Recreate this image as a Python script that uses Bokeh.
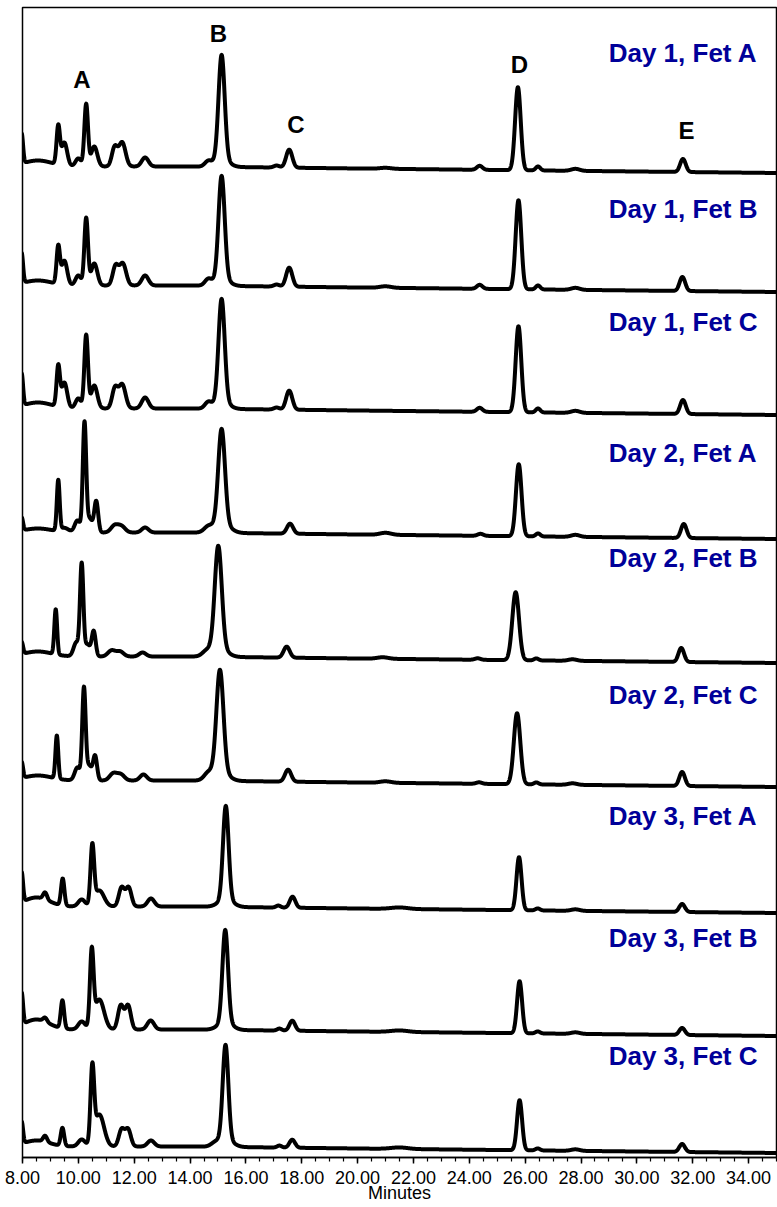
import numpy as np
from bokeh.plotting import figure
from bokeh.models import Range1d, SingleIntervalTicker, PrintfTickFormatter
from bokeh.core.properties import value
from bokeh.embed import file_html
from bokeh.resources import INLINE

# ---------------- data ----------------
sample_names = ["Day 1, Fet A", "Day 1, Fet B", "Day 1, Fet C",
                "Day 2, Fet A", "Day 2, Fet B", "Day 2, Fet C",
                "Day 3, Fet A", "Day 3, Fet B", "Day 3, Fet C"]

# vertical stacking offset of each chromatogram (signal units)
offsets = [980, 861, 738, 614, 490, 366, 240, 117, 0]

# slow baseline drift common to all runs: (minutes, level)
drift_t = [8.0, 14.0, 20.0, 35.0]
drift_v = [2.0, 2.0, 0.0, -4.5]

# peak tables: (retention time [min], height, width sigma [min])
d1_fet_a = [(7.97, 30, .05), (8.55, 6, .5), (9.28, 38, .06), (9.5, 23, .1), (10.0, 8, .1),
            (10.28, 62, .065), (10.57, 20, .11), (11.3, 19, .1), (11.57, 24, .12), (12.39, 9, .12),
            (14.65, 5, .12), (15.13, 104, .11), (15.13, 8, .25), (17.1, 2, .1), (17.55, 18, .11),
            (21.0, 1, .2), (24.37, 4, .1), (25.74, 83, .1), (26.46, 4, .08), (27.8, 2, .15),
            (31.65, 13, .1)]
d1_fet_b = [(7.97, 30, .05), (8.55, 5, .5), (9.28, 37, .06), (9.5, 24, .1), (10.0, 10, .1),
            (10.28, 67, .065), (10.57, 22, .11), (11.33, 19, .1), (11.59, 22, .12), (12.39, 10, .12),
            (14.65, 6, .12), (15.13, 102, .11), (15.13, 8, .25), (17.1, 2, .1), (17.55, 19, .11),
            (21.0, 1.5, .2), (24.37, 4, .1), (25.76, 89, .1), (26.46, 4, .08), (27.8, 2, .15),
            (31.63, 14, .1)]
d1_fet_c = [(7.97, 32, .05), (8.55, 6, .5), (9.28, 40, .06), (9.5, 25, .1), (10.0, 10, .1),
            (10.28, 73, .065), (10.57, 23, .11), (11.31, 20, .1), (11.57, 24, .12), (12.39, 11, .12),
            (14.65, 6, .12), (15.13, 102, .11), (15.13, 8, .25), (17.1, 2, .1), (17.55, 19, .11),
            (24.37, 4, .1), (25.76, 86, .1), (26.46, 4, .08), (27.8, 2, .15), (31.65, 14, .1)]
d2_fet_a = [(7.97, 13, .05), (8.55, 4, .5), (9.28, 50, .05), (9.5, 4, .15), (9.97, 12, .1),
            (10.22, 108, .06), (10.4, 14, .1), (10.64, 31, .07), (11.3, 7, .13), (11.55, 6, .13),
            (12.39, 5, .12), (14.65, 5, .15), (15.13, 94, .12), (15.13, 10, .28), (17.58, 10, .11),
            (21.0, 2, .2), (24.4, 2, .1), (25.77, 72, .1), (26.46, 3, .08), (27.8, 2, .15),
            (31.68, 14, .1)]
d2_fet_b = [(7.97, 12, .05), (8.55, 5, .5), (9.19, 45, .05), (9.93, 14, .1), (10.12, 90, .06),
            (10.32, 12, .1), (10.55, 25, .07), (11.19, 6, .13), (11.49, 5, .13), (12.3, 4, .12),
            (14.59, 4, .15), (15.01, 101, .125), (15.01, 10, .28), (17.46, 11, .11), (20.9, 1.5, .2),
            (24.3, 1.5, .1), (25.66, 68, .12), (26.4, 2, .08), (27.7, 1.5, .15), (31.59, 14, .1)]
d2_fet_c = [(7.97, 16, .05), (8.55, 5, .5), (9.23, 43, .05), (9.97, 13, .1), (10.2, 90, .06),
            (10.38, 15, .1), (10.6, 24, .07), (11.25, 7, .13), (11.52, 6, .13), (12.33, 6, .12),
            (14.65, 6, .15), (15.07, 101, .125), (15.07, 10, .28), (17.51, 12, .11), (21.0, 1.5, .2),
            (24.35, 1.5, .1), (25.71, 71, .115), (26.4, 2, .08), (27.7, 1.5, .15), (31.62, 14, .1)]
d3_fet_a = [(7.97, 30, .05), (8.5, 9, .45), (8.81, 7, .07), (9.44, 27, .06), (10.12, 7, .12),
            (10.5, 58, .065), (10.75, 16, .17), (11.55, 19, .1), (11.8, 19, .1), (12.6, 8, .12),
            (15.28, 93, .1), (15.28, 8, .25), (17.16, 2, .08), (17.67, 11, .1), (21.5, 1.5, .3),
            (25.78, 53, .09), (26.45, 2, .08), (27.8, 1.5, .15), (31.62, 8, .1)]
d3_fet_b = [(7.97, 32, .05), (8.5, 10, .45), (8.81, 4, .07), (9.43, 28, .06), (10.12, 8, .12),
            (10.48, 74, .065), (10.75, 30, .17), (11.52, 24, .1), (11.78, 24, .1), (12.59, 9, .12),
            (15.26, 92, .1), (15.26, 8, .25), (17.2, 2, .08), (17.66, 10, .1), (21.5, 1.5, .3),
            (25.8, 52, .09), (26.45, 2, .08), (27.8, 1.5, .15), (31.62, 7, .1)]
d3_fet_c = [(7.97, 22, .05), (8.5, 6, .45), (8.81, 6, .07), (9.43, 18, .06), (10.12, 7, .12),
            (10.5, 73, .065), (10.75, 32, .17), (11.55, 17, .1), (11.78, 17, .1), (12.6, 6, .12),
            (14.9, 3, .15), (15.27, 94, .1), (15.27, 8, .25), (17.2, 2, .08), (17.66, 8, .1),
            (21.5, 1.5, .3), (25.8, 50, .09), (26.45, 2, .08), (27.8, 1.5, .15), (31.62, 8, .1)]

peak_tables = [d1_fet_a, d1_fet_b, d1_fet_c, d2_fet_a, d2_fet_b, d2_fet_c,
               d3_fet_a, d3_fet_b, d3_fet_c]

# peak identification letters
peak_names = ["A", "B", "C", "D", "E"]

# ---------------- layout constants ----------------
peak_label_x = [10.13, 15.02, 17.79, 25.79, 31.78]
peak_label_y = [1069, 1115, 1024, 1084, 1018]
sample_label_x = 34.32
sample_label_y = [1096, 940, 827, 696, 591, 454, 333, 211, 93]

FONT = value("Liberation Sans")

# ---------------- figure ----------------
p = figure(width=777, height=1207,
           x_range=Range1d(8, 35), y_range=Range1d(-9, 1141),
           output_backend="svg", toolbar_location=None,
           y_axis_location=None,
           min_border_left=22, min_border_right=1, min_border_top=7, min_border_bottom=50)
p.grid.visible = False
p.outline_line_color = "black"
p.outline_line_width = 1.5
p.background_fill_color = "white"
p.border_fill_color = "white"

ax = p.xaxis[0]
ax.ticker = SingleIntervalTicker(interval=2, num_minor_ticks=4)
ax.formatter = PrintfTickFormatter(format="%.2f")
ax.axis_label = "Minutes"
ax.axis_line_color = "black"
ax.axis_line_width = 1.5
ax.major_tick_line_color = "black"
ax.major_tick_line_width = 1.5
ax.minor_tick_line_color = "black"
ax.minor_tick_line_width = 1.2
ax.major_tick_in = 0
ax.major_tick_out = 6
ax.minor_tick_in = 0
ax.minor_tick_out = 4
ax.major_label_text_font = "Liberation Sans"
ax.major_label_text_font_size = "18px"
ax.major_label_text_color = "black"
ax.major_label_standoff = 7
ax.axis_label_text_font = "Liberation Sans"
ax.axis_label_text_font_size = "18px"
ax.axis_label_text_font_style = "normal"
ax.axis_label_text_color = "black"
ax.axis_label_standoff = -4

t = np.arange(7.94, 35.0001, 0.005)
drift = np.interp(t, drift_t, drift_v)

for peaks, off in zip(peak_tables, offsets):
    y = off + drift
    for rt, h, w in peaks:
        y = y + h * np.exp(-0.5 * ((t - rt) / w) ** 2)
    p.line(t, y, line_color="black", line_width=4, line_join="round")

p.text(x=peak_label_x, y=peak_label_y, text=peak_names,
       text_font=FONT, text_font_style="bold", text_font_size="24px",
       text_align="center", text_baseline="alphabetic", text_color="black")

p.text(x=[sample_label_x] * len(sample_names), y=sample_label_y, text=sample_names,
       text_font=FONT, text_font_style="bold", text_font_size="26px",
       text_align="right", text_baseline="alphabetic", text_color="#000099")

open("out.html", "w").write(file_html(p, INLINE))
